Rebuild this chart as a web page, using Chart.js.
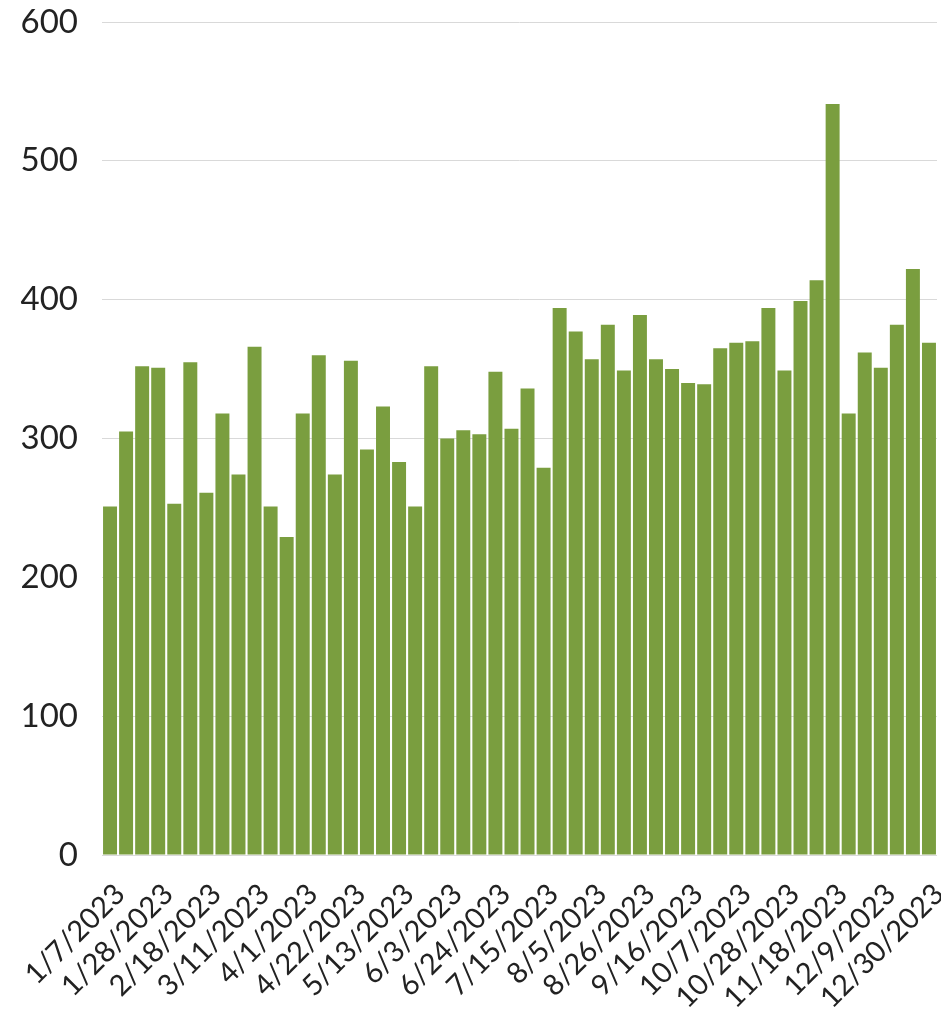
<!DOCTYPE html>
<html>
<head>
<meta charset="utf-8">
<script src="https://cdn.jsdelivr.net/npm/chart.js@4"></script>
<style>
  html, body { margin: 0; padding: 0; background: #fff; }
  .wrap { width: 941px; height: 1015px; position: relative; }
</style>
</head>
<body>
<div class="wrap"><canvas id="chart"></canvas></div>
<script>
// weekly dates (every Saturday of 2023)
const weeks = [
  '1/7/2023','1/14/2023','1/21/2023','1/28/2023','2/4/2023','2/11/2023','2/18/2023','2/25/2023',
  '3/4/2023','3/11/2023','3/18/2023','3/25/2023','4/1/2023','4/8/2023','4/15/2023','4/22/2023',
  '4/29/2023','5/6/2023','5/13/2023','5/20/2023','5/27/2023','6/3/2023','6/10/2023','6/17/2023',
  '6/24/2023','7/1/2023','7/8/2023','7/15/2023','7/22/2023','7/29/2023','8/5/2023','8/12/2023',
  '8/19/2023','8/26/2023','9/2/2023','9/9/2023','9/16/2023','9/23/2023','9/30/2023','10/7/2023',
  '10/14/2023','10/21/2023','10/28/2023','11/4/2023','11/11/2023','11/18/2023','11/25/2023','12/2/2023',
  '12/9/2023','12/16/2023','12/23/2023','12/30/2023'
];

const counts = [
  251, 305, 352, 351, 253, 355, 261, 318, 274, 366, 251, 229, 318,
  360, 274, 356, 292, 323, 283, 251, 352, 300, 306, 303, 348, 307,
  336, 279, 394, 377, 357, 382, 349, 389, 357, 350, 340, 339, 365,
  369, 370, 394, 349, 399, 414, 541, 318, 362, 351, 382, 422, 369
];

const yTicks = [0, 100, 200, 300, 400, 500, 600];

const ctx = document.getElementById('chart').getContext('2d');

new Chart(ctx, {
    type: 'bar',
    data: {
        labels: weeks,
        datasets: [{
            data: counts,
            backgroundColor: '#7a9e3f',
            borderWidth: 0,
            barPercentage: 0.87,
            categoryPercentage: 1.0
        }]
    },
    options: {
        responsive: true,
        maintainAspectRatio: false,
        animation: false,
        layout: {
            padding: { left: 10, right: 4, top: 22, bottom: 0 }
        },
        plugins: {
            legend: { display: false },
            tooltip: { enabled: false }
        },
        scales: {
            x: {
                grid: { display: false },
                border: { display: false },
                ticks: {
                    autoSkip: false,
                    maxRotation: 45,
                    minRotation: 45,
                    padding: 14,
                    labelOffset: 10,
                    color: '#222',
                    font: { size: 29, family: 'Lato' },
                    // only every third week gets a label
                    callback: function(value, index) {
                        return index % 3 === 0 ? weeks[index] : '';
                    }
                },
                afterFit: function(scale) {
                    scale.height = 160;
                    scale.paddingLeft = 0;
                    scale.paddingRight = 0;
                }
            },
            y: {
                min: 0,
                max: 600,
                afterBuildTicks: function(scale) {
                    scale.ticks = yTicks.map(v => ({ value: v }));
                },
                grid: {
                    color: '#d9d9d9',
                    lineWidth: 1,
                    drawTicks: false
                },
                border: { display: false },
                ticks: {
                    padding: 24,
                    color: '#222',
                    font: { size: 33, family: 'Lato' }
                },
                afterFit: function(scale) {
                    scale.width = 92;
                    scale.paddingTop = 0;
                    scale.paddingBottom = 0;
                }
            }
        }
    }
});
</script>
</body>
</html>
